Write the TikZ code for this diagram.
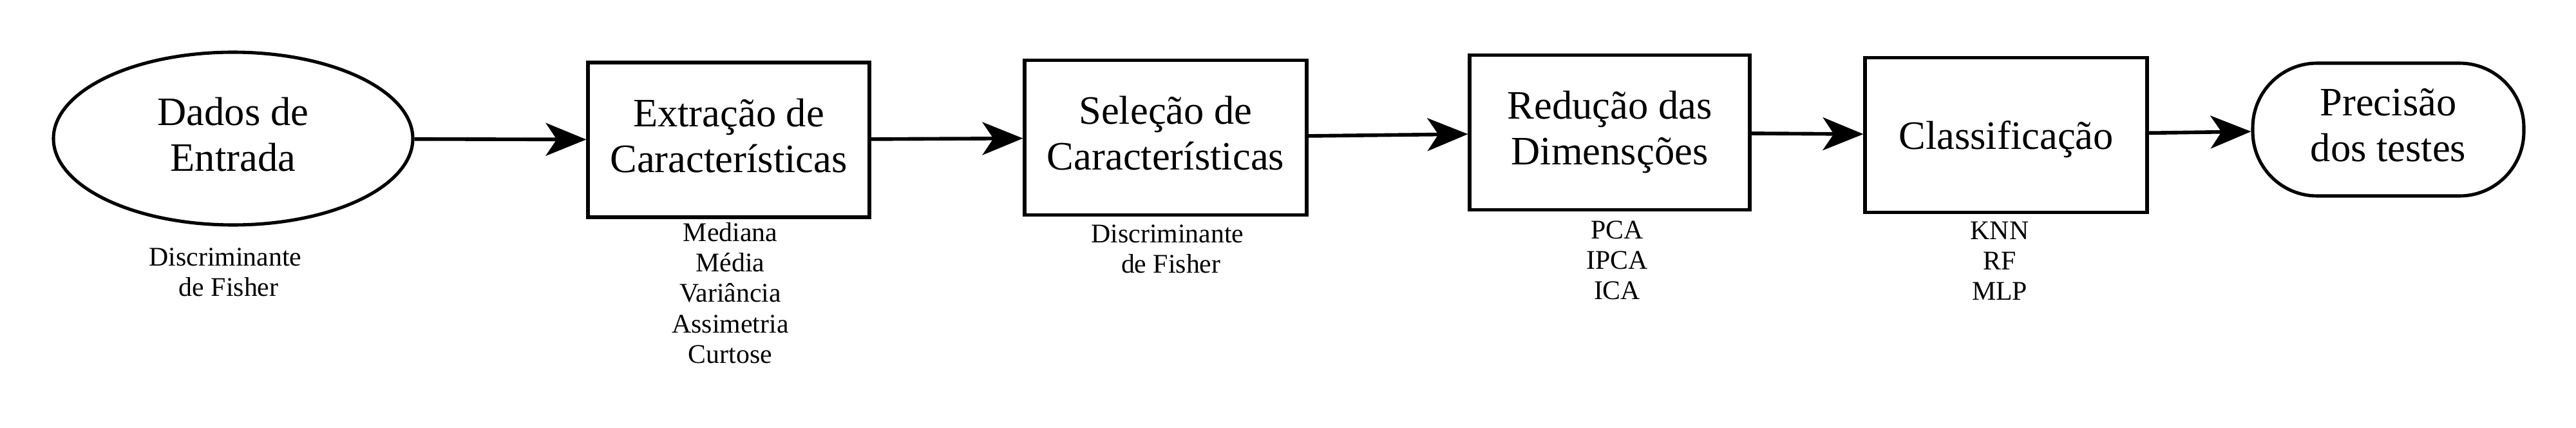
\documentclass[tikz,border=0pt]{standalone}
\usepackage{fontspec}
\setmainfont{Liberation Serif}
\usepackage{tikz}
\usetikzlibrary{shapes.geometric,arrows.meta,positioning}

\newcommand{\mainstrut}{\rule[-3.85pt]{0pt}{20.2pt}}
\newcommand{\notestrut}{\rule[-4pt]{0pt}{13.4pt}}

\begin{document}
\begin{tikzpicture}[
    stage/.style={draw,line width=1.45pt,align=center,inner sep=0pt,
        font=\fontsize{17.8}{20.2}\selectfont,
        execute at begin node=\mainstrut,execute at end node=\mainstrut},
    block/.style={stage,rectangle,minimum width=4.38cm,minimum height=2.4cm},
    note/.style={align=center,inner sep=0pt,anchor=north,
        font=\fontsize{11.9}{13.4}\selectfont,
        execute at begin node=\notestrut,execute at end node=\notestrut},
    flow/.style={-{Stealth[length=6.3mm,width=5.1mm,inset=1.7mm]},line width=1.6pt}
]
    \useasboundingbox (0,0) rectangle (40,-6.64);

    % Pipeline stages
    \node[stage,ellipse,minimum width=5.58cm,minimum height=2.68cm] (dados) at (3.62,-2.15) {Dados de\\Entrada};
    \node[block,minimum width=4.37cm] (extr) at (11.315,-2.17) {Extração de\\Características};
    \node[block] (sele) at (18.10,-2.135) {Seleção de\\Características};
    \node[block,minimum width=4.35cm] (redu) at (24.995,-2.055) {Redução das\\Dimensções};
    \node[block] (clas) at (31.15,-2.095) {Classificação};
    \node[stage,rectangle,rounded corners=1cm,minimum width=4.21cm,minimum height=2.06cm] (prec) at (37.085,-2.01) {Precisão\\dos testes};

    % Methods under each stage
    \node[note] (dadosnote) at (3.50,-3.84) {Discriminante\\\hspace{0.25em}de Fisher};
    \node[note] (extrnote) at (11.34,-3.45) {Mediana\\Média\\Variância\\Assimetria\\Curtose};
    \node[note] (selenote) at (18.13,-3.48) {Discriminante\\\hspace{0.25em}de Fisher};
    \node[note] (redunote) at (25.11,-3.42) {PCA\\IPCA\\ICA};
    \node[note] (clasnote) at (31.05,-3.43) {KNN\\RF\\MLP};

    % Arrows
    \draw[flow] (dados) -- (extr);
    \draw[flow] (extr) -- (sele);
    \draw[flow] (sele) -- (redu);
    \draw[flow] (redu) -- (clas);
    \draw[flow] (clas) -- (prec);
\end{tikzpicture}
\end{document}
